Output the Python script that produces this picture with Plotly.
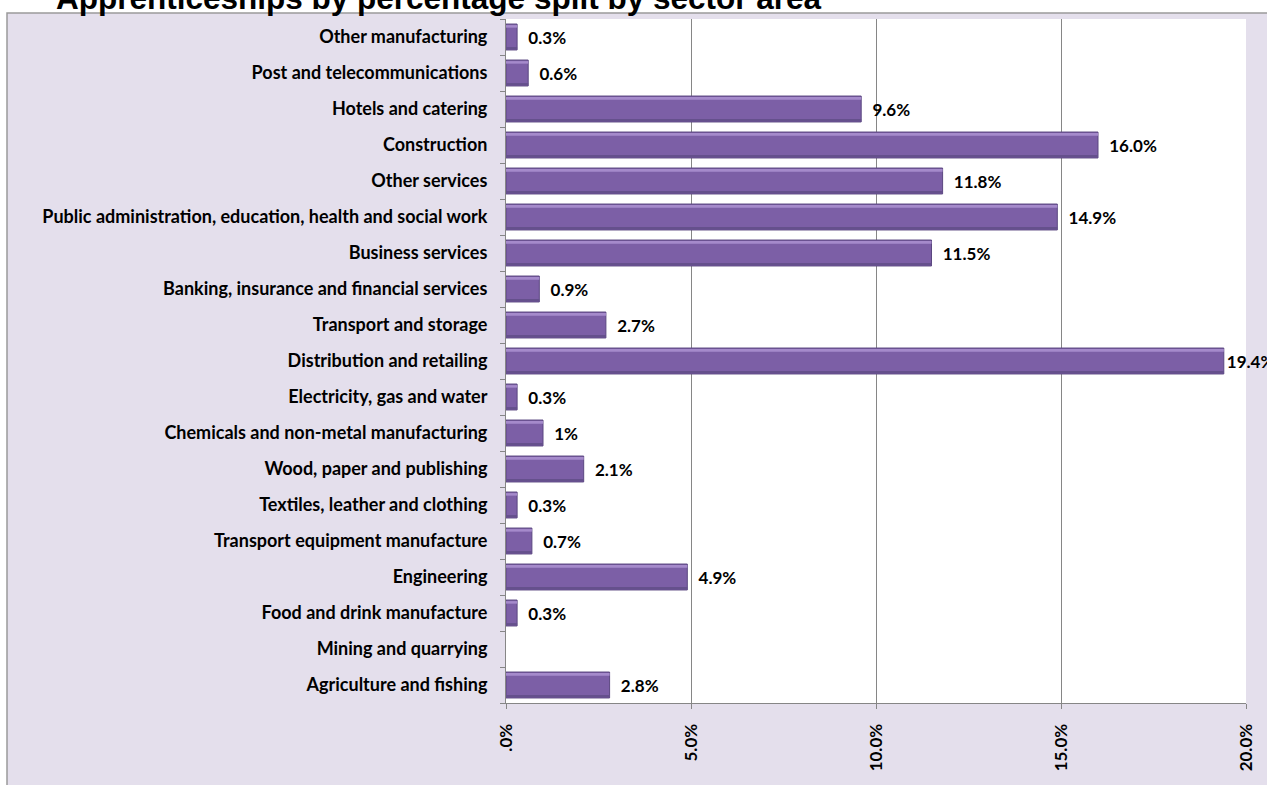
import plotly.graph_objects as go

# Data (bottom -> top as drawn)
categories = [
    "Agriculture and fishing",
    "Mining and quarrying",
    "Food and drink manufacture",
    "Engineering",
    "Transport equipment manufacture",
    "Textiles, leather and clothing",
    "Wood, paper and publishing",
    "Chemicals and non-metal manufacturing",
    "Electricity, gas and water",
    "Distribution and retailing",
    "Transport and storage",
    "Banking, insurance and financial services",
    "Business services",
    "Public administration, education, health and social work",
    "Other services",
    "Construction",
    "Hotels and catering",
    "Post and telecommunications",
    "Other manufacturing",
]
values = [2.8, 0.0, 0.3, 4.9, 0.7, 0.3, 2.1, 1.0, 0.3, 19.4, 2.7, 0.9, 11.5, 14.9, 11.8, 16.0, 9.6, 0.6, 0.3]
value_labels = ["2.8%", "", "0.3%", "4.9%", "0.7%", "0.3%", "2.1%", "1%", "0.3%", "19.4%",
                "2.7%", "0.9%", "11.5%", "14.9%", "11.8%", "16.0%", "9.6%", "0.6%", "0.3%"]
tick_vals = [0, 5, 10, 15, 20]
tick_text = [".0%", "5.0%", "10.0%", "15.0%", "20.0%"]

title_text = "Apprenticeships by percentage split by sector area"

W, H = 1267, 785
ML, MR, MT, MB = 506, 21, 19, 82
pw = W - ML - MR
ph = H - MT - MB

FONT = "Lato"
GRAY = "#868686"
LAV = "#E4DFEC"

shown = [("  " + t if t and v < 19 else t) for t, v in zip(value_labels, values)]
line_widths = [1 if v > 0 else 0 for v in values]

fig = go.Figure()
fig.add_trace(go.Bar(
    y=categories, x=values, orientation="h",
    marker=dict(color="#7C5FA6", line=dict(color="#5B4780", width=line_widths)),
    width=0.72,
    text=shown, textposition="outside", cliponaxis=False, constraintext="none",
    textfont=dict(family=FONT, size=17, color="#000000", weight="bold"),
    hoverinfo="x+y",
))
# light bevel highlight along the top of each bar
fig.add_trace(go.Bar(
    y=categories, x=values, orientation="h",
    marker=dict(color="#A58ACB", line=dict(width=0)),
    width=0.07, offset=0.26, hoverinfo="skip",
))
fig.add_trace(go.Bar(
    y=categories, x=values, orientation="h",
    marker=dict(color="#65508C", line=dict(width=0)),
    width=0.06, offset=-0.34, hoverinfo="skip",
))

def px_to_paper_x(px):
    return (px - ML) / pw

def px_to_paper_y(py):
    return (H - MB - py) / ph

shapes = [
    dict(type="rect", xref="paper", yref="paper", layer="below",
         x0=px_to_paper_x(7), x1=px_to_paper_x(W + 20),
         y0=px_to_paper_y(H + 20), y1=px_to_paper_y(13),
         fillcolor=LAV, line=dict(color="#9A9A9A", width=1.5)),
    dict(type="rect", xref="paper", yref="paper", layer="below",
         x0=0, x1=1, y0=0, y1=1, fillcolor="white", line=dict(width=0)),
]

TITLE_SIZE = 31.5
title_center_px = 8.5 - 0.347 * TITLE_SIZE

fig.update_layout(
    width=W, height=H,
    margin=dict(l=ML, r=MR, t=MT, b=MB, pad=0),
    paper_bgcolor="white", plot_bgcolor="white",
    barmode="overlay", bargap=0.28,
    showlegend=False,
    shapes=shapes,
    annotations=[dict(
        text="<b>" + title_text + "</b>", showarrow=False,
        xref="paper", yref="paper",
        x=px_to_paper_x(54), xanchor="left",
        y=px_to_paper_y(title_center_px), yanchor="middle",
        font=dict(family="Liberation Sans, Arial", size=TITLE_SIZE, color="#000000"),
    )],
    font=dict(family=FONT, color="#000000"),
)
fig.update_xaxes(
    range=[0, 20], tickvals=tick_vals, ticktext=tick_text, tickangle=-90,
    showgrid=True, gridcolor=GRAY, gridwidth=1,
    showline=True, linecolor=GRAY, linewidth=1,
    ticks="outside", ticklen=5, tickcolor=GRAY,
    ticklabelstandoff=8,
    tickfont=dict(family=FONT, size=17, color="#000000", weight="bold"),
    zeroline=False, fixedrange=True,
)
fig.update_yaxes(
    type="category", categoryorder="array", categoryarray=categories,
    showline=True, linecolor=GRAY, linewidth=1,
    ticks="outside", ticklen=5, tickcolor=GRAY, tickson="boundaries",
    ticklabelstandoff=14,
    tickfont=dict(family=FONT, size=18, color="#000000", weight="bold"),
    showgrid=False, fixedrange=True,
)

fig.write_html(
    "out.html",
    config={"displayModeBar": False},
    post_script="document.body.style.margin='0px';document.body.style.overflow='hidden';",
)
